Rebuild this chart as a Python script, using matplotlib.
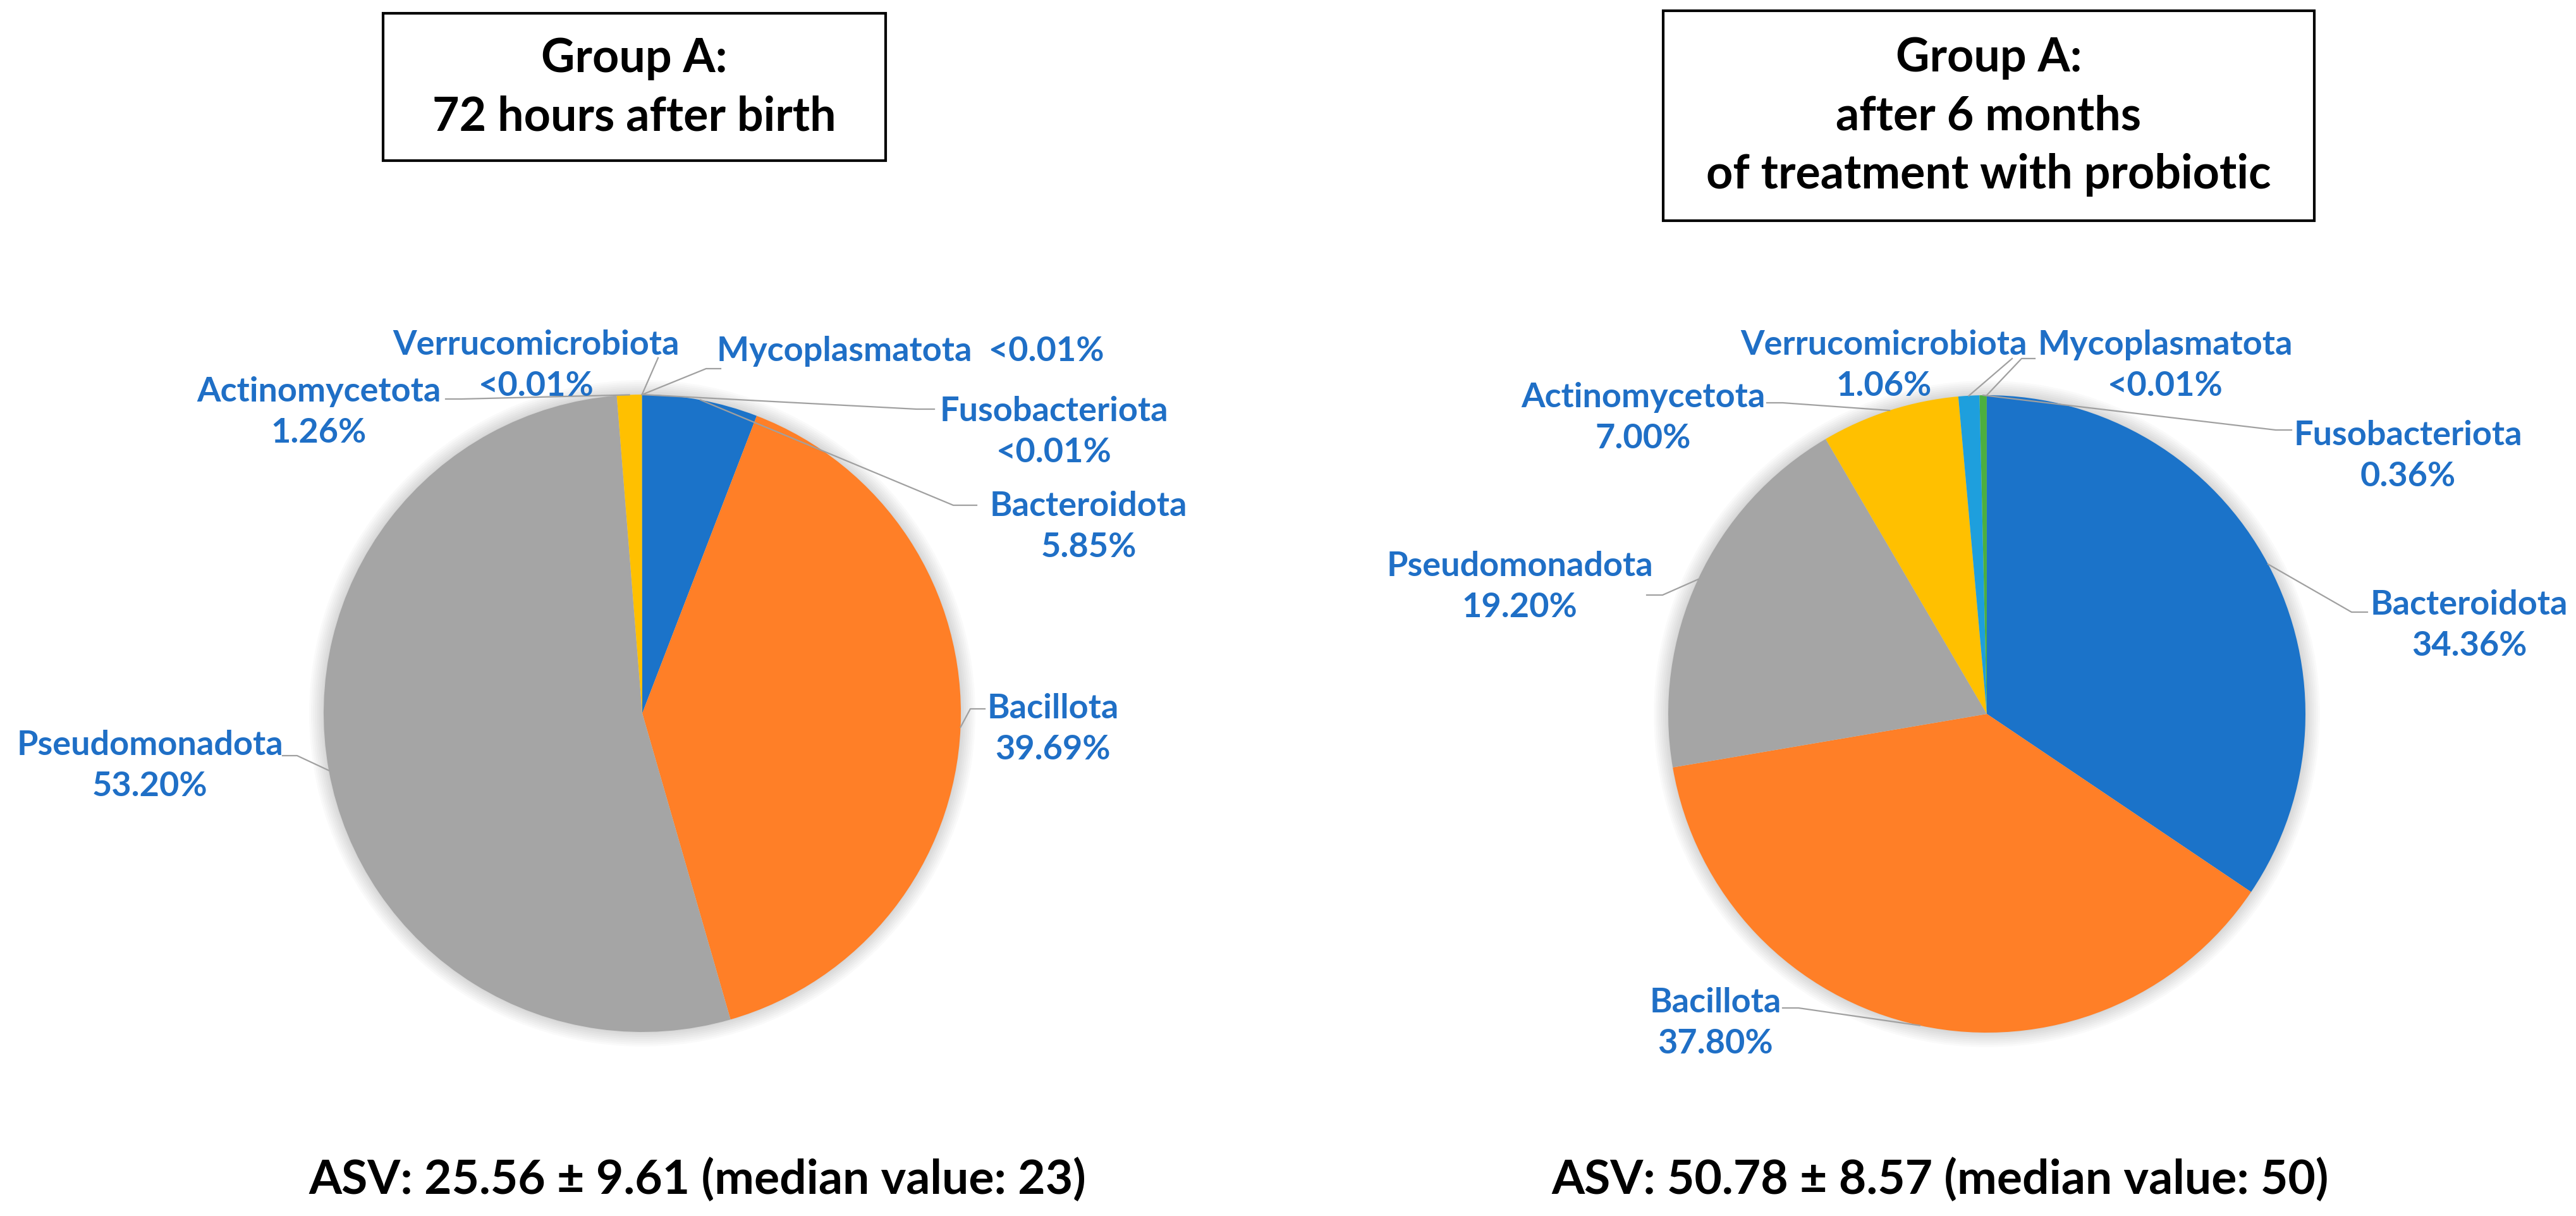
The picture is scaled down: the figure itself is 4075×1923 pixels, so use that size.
import matplotlib.pyplot as plt
from matplotlib.patches import Rectangle, Circle
import numpy as np

# data
phyla = ["Bacteroidota", "Bacillota", "Pseudomonadota", "Actinomycetota",
         "Verrucomicrobiota", "Fusobacteriota", "Mycoplasmatota"]
birth_values = [5.85, 39.69, 53.20, 1.26, 0.005, 0.005, 0.005]
birth_labels = ["5.85%", "39.69%", "53.20%", "1.26%", "<0.01%", "<0.01%", "<0.01%"]
probiotic_values = [34.36, 37.80, 19.20, 7.00, 1.06, 0.36, 0.005]
probiotic_labels = ["34.36%", "37.80%", "19.20%", "7.00%", "1.06%", "0.36%", "<0.01%"]
colors = ["#1B73C9", "#FF7F27", "#A5A5A5", "#FFC000", "#1E9FDD", "#4CAF3F", "#2E5E96"]

titles = ["Group A:\n72 hours after birth",
          "Group A:\nafter 6 months\nof treatment with probiotic"]
asv_text = ["ASV: 25.56 \u00b1 9.61 (median value: 23)",
            "ASV: 50.78 \u00b1 8.57 (median value: 50)"]

W, H = 4075, 1924
FONT = ["Lato", "DejaVu Sans"]
LABEL_COLOR = "#1F6FC6"
LINE_COLOR = "#A0A0A0"


def Y(y):
    return H - y


fig = plt.figure(figsize=(W / 100, H / 100), dpi=100)
ax = fig.add_axes([0, 0, 1, 1])

# layout: pie centre, radius, label text centre, leader elbow, tick end
layouts = [
    dict(c=(1016, 1129), r=504,
         pos={"Bacteroidota": (1722, 833, 1508, 800, 1545),
              "Bacillota": (1666, 1153, 1535, 1122, 1558),
              "Pseudomonadota": (237, 1211, 470, 1196, 447),
              "Actinomycetota": (504, 652, 730, 632, 705),
              "Verrucomicrobiota": (848, 578, 1041, 567, None),
              "Fusobacteriota": (1667, 683, 1450, 648, 1478),
              "Mycoplasmatota": (1440, 556, 1117, 584, 1140)},
         oneline=["Mycoplasmatota"]),
    dict(c=(3143, 1130), r=504,
         pos={"Bacteroidota": (3906, 989, 3720, 969, 3745),
              "Bacillota": (2714, 1618, 2845, 1595, 2820),
              "Pseudomonadota": (2404, 928, 2630, 942, 2605),
              "Actinomycetota": (2599, 661, 2820, 638, 2795),
              "Verrucomicrobiota": (2980, 578, 3183, 568, None),
              "Fusobacteriota": (3809, 721, 3600, 681, 3625),
              "Mycoplasmatota": (3425, 578, 3198, 568, 3219)},
         oneline=[]),
]

for values, labels, lay in zip([birth_values, probiotic_values],
                               [birth_labels, probiotic_labels], layouts):
    cx, cy = lay["c"]
    r = lay["r"]
    # soft glow around the pie
    for k in range(8):
        ax.add_patch(Circle((cx, Y(cy)), r + 2 + k * 3, color="#000000",
                            alpha=0.018, lw=0, zorder=0))
    wedges, _ = ax.pie(values, colors=colors, startangle=90, counterclock=False,
                       center=(cx, Y(cy)), radius=r,
                       wedgeprops=dict(linewidth=0))
    for w, name, lab in zip(wedges, phyla, labels):
        tx, ty, ex, ey, tick = lay["pos"][name]
        mid = np.deg2rad((w.theta1 + w.theta2) / 2)
        px = w.center[0] + w.r * np.cos(mid)
        py = w.center[1] + w.r * np.sin(mid)
        xs = [px, ex]
        ys = [py, Y(ey)]
        if tick is not None:
            xs.append(tick)
            ys.append(Y(ey))
        ax.plot(xs, ys, color=LINE_COLOR, lw=1.6, zorder=3)
        if name in lay["oneline"]:
            txt = name + "  " + lab
        else:
            txt = name + "\n" + lab
        ax.text(tx, Y(ty), txt, ha="center", va="center", color=LABEL_COLOR,
                fontsize=39, fontweight="bold", family=FONT, linespacing=1.4,
                zorder=4)

# title boxes
boxes = [(606, 22, 1401, 255), (2631, 18, 3661, 350)]
for (x0, y0, x1, y1), t in zip(boxes, titles):
    ax.add_patch(Rectangle((x0, Y(y1)), x1 - x0, y1 - y0, fill=False,
                           edgecolor="black", lw=3, zorder=2))
    ax.text((x0 + x1) / 2, Y((y0 + y1) / 2), t, ha="center", va="center",
            fontsize=53, fontweight="bold", family=FONT, linespacing=1.42,
            color="black")

for x, t in zip([1103, 3069], asv_text):
    ax.text(x, Y(1866), t, ha="center", va="center", fontsize=54,
            fontweight="bold", family=FONT, color="black")

ax.set_xlim(0, W)
ax.set_ylim(0, H)
ax.set_aspect("equal")
ax.axis("off")

fig.savefig("out.png", dpi=100, facecolor="white")
